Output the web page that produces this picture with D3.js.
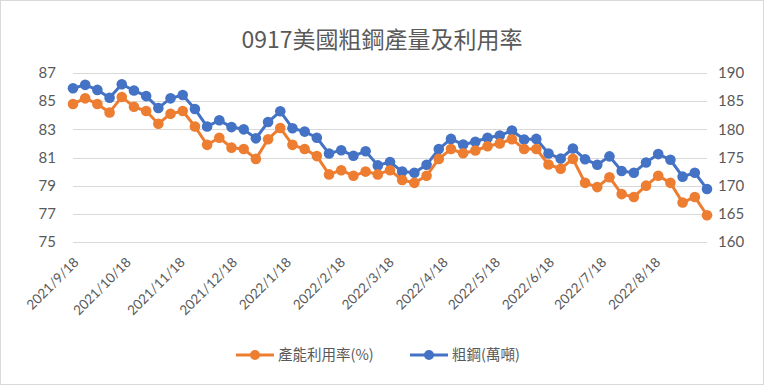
<!DOCTYPE html>
<html>
<head>
<meta charset="utf-8">
<script src="https://cdn.jsdelivr.net/npm/d3@7"></script>
<style>
  body { margin: 0; background: #fff; }
  svg { display: block; }
  .tick text { fill: #595959; }
</style>
</head>
<body>
<div id="viz"></div>
<script>
// weekly data, 2021/9/18 .. 2022/9/17
var startDate = "2021-09-18";
var utilization = [84.8, 85.2, 84.8, 84.2, 85.3, 84.6, 84.3, 83.4, 84.1, 84.3,
  83.2, 81.9, 82.4, 81.7, 81.6, 80.9, 82.3, 83.1, 81.9, 81.6,
  81.1, 79.8, 80.1, 79.7, 80.0, 79.8, 80.1, 79.4, 79.2, 79.7,
  80.9, 81.6, 81.3, 81.5, 81.8, 82.0, 82.3, 81.6, 81.6, 80.5,
  80.2, 80.9, 79.2, 78.9, 79.6, 78.4, 78.2, 79.0, 79.7, 79.2,
  77.8, 78.2, 76.9];
var output = [187.3, 187.9, 187.0, 185.6, 188.0, 186.9, 185.9, 183.8, 185.5, 186.1,
  183.6, 180.5, 181.6, 180.4, 180.0, 178.4, 181.3, 183.2, 180.2, 179.6,
  178.5, 175.7, 176.3, 175.3, 176.1, 173.6, 174.2, 172.5, 172.3, 173.7,
  176.5, 178.3, 177.3, 177.8, 178.5, 178.9, 179.8, 178.2, 178.3, 175.7,
  174.8, 176.6, 174.7, 173.7, 175.2, 172.6, 172.3, 174.1, 175.6, 174.6,
  171.6, 172.3, 169.4];
var leftTicks = [75, 77, 79, 81, 83, 85, 87];
var rightTicks = [160, 165, 170, 175, 180, 185, 190];
var monthTicks = ["2021-09-18", "2021-10-18", "2021-11-18", "2021-12-18", "2022-01-18",
  "2022-02-18", "2022-03-18", "2022-04-18", "2022-05-18", "2022-06-18", "2022-07-18", "2022-08-18"];
var seriesNames = ["產能利用率(%)", "粗鋼(萬噸)"];
var title = "0917美國粗鋼產量及利用率";

var W = 764, H = 385;
var margin = {top: 73, right: 57, bottom: 143, left: 73};
var width = W - margin.left - margin.right,
    height = H - margin.top - margin.bottom;

var parse = d3.timeParse("%Y-%m-%d");
var fmt = d3.timeFormat("%Y/%-m/%-d");
var t0 = parse(startDate);
var dates = utilization.map(function(d, i) { return d3.timeDay.offset(t0, i * 7); });

var x = d3.scaleTime().domain([dates[0], dates[dates.length - 1]]).range([0, width]);
var yL = d3.scaleLinear().domain([75, 87]).range([height, 0]);
var yR = d3.scaleLinear().domain([160, 190]).range([height, 0]);

var orange = "#ED7D31", blue = "#4472C4";
var numFont = "Lato, 'Open Sans', sans-serif";
var cjkFont = "'Noto Sans CJK TC', 'Noto Sans CJK SC', sans-serif";

var svg = d3.select("#viz").append("svg").attr("width", W).attr("height", H);

svg.append("rect")
    .attr("x", 0.5).attr("y", 0.5)
    .attr("width", W - 1).attr("height", H - 1)
    .style("fill", "#fff").style("stroke", "#d9d9d9");

svg.append("text")
    .attr("x", W / 2).attr("y", 48)
    .attr("text-anchor", "middle")
    .style("font-family", cjkFont)
    .style("font-size", "23px")
    .style("fill", "#595959")
    .text(title);

var g = svg.append("g").attr("transform", "translate(" + margin.left + "," + margin.top + ")");

// grid
g.append("g").selectAll("line").data(leftTicks).enter().append("line")
    .attr("x1", 0).attr("x2", width)
    .attr("y1", function(d) { return Math.round(yL(d)) + 0.5; })
    .attr("y2", function(d) { return Math.round(yL(d)) + 0.5; })
    .style("stroke", "#d9d9d9").style("stroke-width", 1);

// left axis
var axL = g.append("g").call(d3.axisLeft(yL).tickValues(leftTicks).tickSize(0).tickPadding(17));
axL.select(".domain").remove();
axL.selectAll("text").style("font-family", numFont).style("font-size", "15px");

// right axis
var axR = g.append("g").attr("transform", "translate(" + width + ",0)")
    .call(d3.axisRight(yR).tickValues(rightTicks).tickSize(0).tickPadding(11));
axR.select(".domain").remove();
axR.selectAll("text").style("font-family", numFont).style("font-size", "15px");

// x axis labels
var axX = g.append("g").attr("transform", "translate(0," + height + ")")
    .call(d3.axisBottom(x).tickValues(monthTicks.map(parse)).tickFormat(fmt).tickSize(0));
axX.select(".domain").remove();
axX.selectAll("text")
    .attr("text-anchor", "end")
    .attr("dx", 0).attr("dy", 0)
    .attr("transform", "translate(4,19) rotate(-45)")
    .style("font-family", numFont)
    .style("font-size", "13.5px");

function drawSeries(vals, yScale, color) {
  var line = d3.line()
      .x(function(d, i) { return x(dates[i]); })
      .y(function(d) { return yScale(d); });
  g.append("path").datum(vals)
      .attr("d", line)
      .style("fill", "none")
      .style("stroke", color)
      .style("stroke-width", 3)
      .style("stroke-linejoin", "round");
  g.append("g").selectAll("circle").data(vals).enter().append("circle")
      .attr("cx", function(d, i) { return x(dates[i]); })
      .attr("cy", function(d) { return yScale(d); })
      .attr("r", 5.3)
      .style("fill", color);
}

drawSeries(output, yR, blue);
drawSeries(utilization, yL, orange);

// legend
var legend = [{name: seriesNames[0], color: orange, x: 236}, {name: seriesNames[1], color: blue, x: 410}];
var lg = svg.append("g").selectAll("g").data(legend).enter().append("g")
    .attr("transform", function(d) { return "translate(" + d.x + ",355)"; });
lg.append("line").attr("x1", 0).attr("x2", 38).attr("y1", 0).attr("y2", 0)
    .style("stroke", function(d) { return d.color; }).style("stroke-width", 3);
lg.append("circle").attr("cx", 19).attr("cy", 0).attr("r", 5)
    .style("fill", function(d) { return d.color; });
lg.append("text").attr("x", 42).attr("y", 5)
    .style("font-family", cjkFont)
    .style("font-size", "14.5px")
    .style("fill", "#595959")
    .text(function(d) { return d.name; });
</script>
</body>
</html>
